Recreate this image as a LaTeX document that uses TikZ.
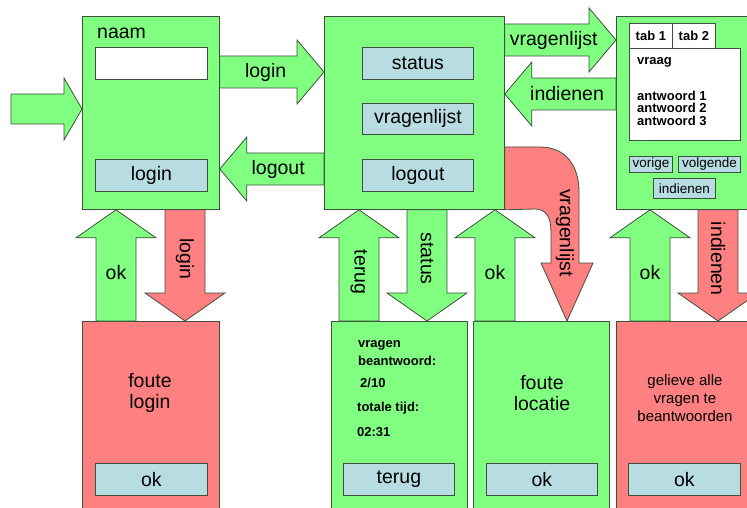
\documentclass[tikz,border=0pt]{standalone}
\usepackage{fontspec}
\setmainfont{Liberation Sans}
\usetikzlibrary{calc}

\definecolor{scrgreen}{RGB}{128,255,128}
\definecolor{scrred}{RGB}{255,128,128}
\definecolor{btnblue}{RGB}{183,221,227}
\definecolor{edge}{RGB}{60,80,60}

\tikzset{
  screen/.style={draw=edge, fill=scrgreen, line width=0.8pt, anchor=north west, inner sep=0pt},
  errscreen/.style={screen, fill=scrred},
  button/.style={screen, fill=btnblue, font=\fontsize{19.5}{21}\selectfont},
  smallbutton/.style={screen, fill=btnblue, font=\fontsize{13.5}{14}\selectfont},
  field/.style={screen, fill=white},
  flow/.style={draw=edge, line width=0.8pt, line join=miter},
  bigtext/.style={font=\fontsize{19.5}{21.5}\selectfont, inner sep=0pt},
  infotext/.style={font=\fontsize{13}{12.5}\selectfont\bfseries, inner sep=0pt, anchor=west},
}

% arrow sizes: body half width, head half width, head length
\newcommand\arrowsize[3]{\def\bodyw{#1}\def\headw{#2}\def\headl{#3}}
% block arrow from #2 to #3, filled with #1, label #5 named #6
\newcommand\blockarrow[6]{%
  \path (#2) coordinate (tail) (#3) coordinate (tip);
  \coordinate (base) at ($(tip)!\headl pt!(tail)$);
  \draw[flow, fill=#1] ($(tail)!\bodyw pt!90:(tip)$) -- ($(base)!\bodyw pt!90:(tip)$)
    -- ($(base)!\headw pt!90:(tip)$) -- (tip) -- ($(base)!\headw pt!-90:(tip)$)
    -- ($(base)!\bodyw pt!-90:(tip)$) -- ($(tail)!\bodyw pt!-90:(tip)$) -- cycle;
  \node[bigtext, #4] (#6) at ($(tail)!0.44!(tip)$) {#5};
}

\begin{document}
\begin{tikzpicture}[x=1pt, y=-1pt]
  \useasboundingbox (0,0) rectangle (747,508);
  \clip (0,0) rectangle (747,508);

  % login screen
  \node[screen, minimum width=137pt, minimum height=193pt] (loginbox) at (82,16) {};
  \node[bigtext, anchor=west] (naam) at (97,33) {naam};
  \node[field, minimum width=112pt, minimum height=32pt] (namefield) at (95,47) {};
  \node[button, minimum width=112pt, minimum height=32pt] (loginbtn) at (95,159) {login};

  % main menu
  \node[screen, minimum width=180pt, minimum height=193pt] (mainbox) at (324,16) {};
  \node[button, minimum width=111pt, minimum height=32pt] (statusbtn) at (362,47) {status};
  \node[button, minimum width=111pt, minimum height=31pt] (listbtn) at (362,103) {vragenlijst};
  \node[button, minimum width=111pt, minimum height=32pt] (logoutbtn) at (362,159) {logout};

  % questionnaire
  \node[screen, minimum width=150pt, minimum height=193pt] (quizbox) at (616,16) {};
  \node[field, minimum width=43pt, minimum height=25pt, font=\fontsize{13}{14}\selectfont\bfseries] (tabone) at (629,23) {tab 1};
  \node[field, minimum width=43pt, minimum height=25pt, font=\fontsize{13}{14}\selectfont\bfseries] (tabtwo) at (672,23) {tab 2};
  \node[field, minimum width=111pt, minimum height=92pt] (question) at (629,48) {};
  \node[infotext] (vraag) at (637,62) {vraag};
  \node[infotext, anchor=north west, align=left] (answers) at (637,90.5) {antwoord 1\\antwoord 2\\antwoord 3};
  \node[smallbutton, minimum width=43pt, minimum height=16pt] (prevbtn) at (629,156) {vorige};
  \node[smallbutton, minimum width=62pt, minimum height=16pt] (nextbtn) at (678,156) {volgende};
  \node[smallbutton, minimum width=62pt, minimum height=20pt] (sendbtn) at (653,178) {indienen};

  % bottom row
  \node[errscreen, minimum width=137pt, minimum height=200pt] (badlogin) at (82,321) {};
  \node[bigtext, align=center] (badlogintxt) at (150,393) {foute\\login};
  \node[button, minimum width=112pt, minimum height=32pt] (okone) at (95,463) {ok};

  \node[screen, minimum width=136pt, minimum height=200pt] (statusbox) at (331,321) {};
  \node[infotext] (answered) at (358,345) {vragen};
  \node[infotext] (answeredtwo) at (358,361) {beantwoord:};
  \node[infotext] (count) at (360,383) {2/10};
  \node[infotext] (totaltime) at (357,408) {totale tijd:};
  \node[infotext] (clock) at (357,432) {02:31};
  \node[button, minimum width=111pt, minimum height=32pt] (backbtn) at (343,463) {terug};

  \node[screen, minimum width=136pt, minimum height=200pt] (badloc) at (473,321) {};
  \node[bigtext, align=center] (badloctxt) at (542,393) {foute\\locatie};
  \node[button, minimum width=111pt, minimum height=32pt] (oktwo) at (486,463) {ok};

  \node[errscreen, minimum width=150pt, minimum height=200pt] (incomplete) at (616,321) {};
  \node[font=\fontsize{15}{18}\selectfont, inner sep=0pt, align=center] (incompletetxt) at (685,398) {gelieve alle\\vragen te\\beantwoorden};
  \node[button, minimum width=112pt, minimum height=32pt] (okthree) at (628,463) {ok};

  % horizontal arrows
  \coordinate (start) at (11,109);
  \arrowsize{15}{31}{18}
  \blockarrow{scrgreen}{start}{loginbox.west |- 0,109}{}{}{entry}
  \arrowsize{16}{32}{27}
  \blockarrow{scrgreen}{loginbox.east |- 0,72}{mainbox.west |- 0,72}{}{login}{tologin}
  \blockarrow{scrgreen}{mainbox.west |- 0,169}{loginbox.east |- 0,169}{}{logout}{tologout}
  \blockarrow{scrgreen}{mainbox.east |- 0,40}{quizbox.west |- 0,40}{}{vragenlijst}{tolist}
  \blockarrow{scrgreen}{quizbox.west |- 0,94}{mainbox.east |- 0,94}{}{indienen}{tosend}

  % vertical arrows
  \arrowsize{20}{40}{28}
  \blockarrow{scrgreen}{badlogin.north -| 116,0}{loginbox.south -| 116,0}{}{ok}{okup}
  \blockarrow{scrred}{loginbox.south -| 185,0}{badlogin.north -| 185,0}{rotate=-90}{login}{loginfail}
  \blockarrow{scrgreen}{statusbox.north -| 359,0}{mainbox.south -| 359,0}{rotate=-90}{terug}{goback}
  \blockarrow{scrgreen}{mainbox.south -| 427,0}{statusbox.north -| 427,0}{rotate=-90}{status}{showstatus}
  \blockarrow{scrgreen}{badloc.north -| 495,0}{mainbox.south -| 495,0}{}{ok}{locok}
  \blockarrow{scrgreen}{incomplete.north -| 650,0}{quizbox.south -| 650,0}{}{ok}{sendok}
  \blockarrow{scrred}{quizbox.south -| 718,0}{incomplete.north -| 718,0}{rotate=-90}{indienen}{sendfail}

  % bent arrow to wrong location
  \draw[flow, fill=scrred] (mainbox.east |- 0,147) -- (540,147)
    .. controls (566,147) and (579,166) .. (579,192) -- (579,263) -- (593,263)
    -- (badloc.north -| 567,0) -- (541,263) -- (551,263) -- (551,232)
    .. controls (551,217) and (546,209) .. (535,209) -- (mainbox.south east) -- cycle;
  \node[bigtext, rotate=-90] (wrongloc) at (565,233) {vragenlijst};
\end{tikzpicture}
\end{document}
